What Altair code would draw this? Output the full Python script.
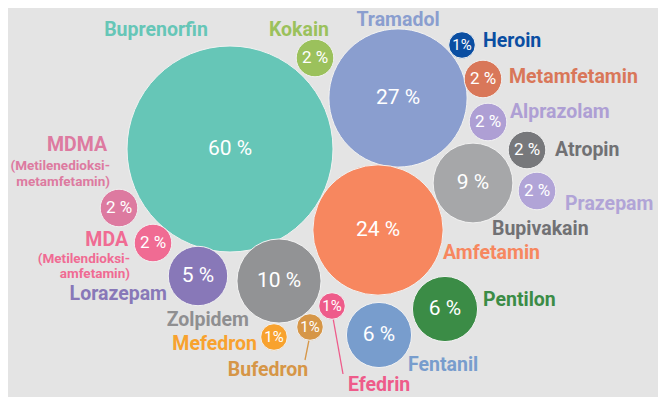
import altair as alt
import pandas as pd

# Bubble data
names = ["Buprenorfin", "Kokain", "Tramadol", "Heroin", "Metamfetamin", "Alprazolam",
         "Atropin", "Bupivakain", "Prazepam", "Amfetamin", "MDMA", "MDA", "Lorazepam",
         "Zolpidem", "Efedrin", "Mefedron", "Bufedron", "Fentanil", "Pentilon"]
values = [60, 2, 27, 1, 2, 2, 2, 9, 2, 24, 2, 2, 5, 10, 1, 1, 1, 6, 6]
pct_labels = ["60 %", "2 %", "27 %", "1%", "2 %", "2 %", "2 %", "9 %", "2 %", "24 %",
              "2 %", "2 %", "5 %", "10 %", "1%", "1%", "1%", "6 %", "6 %"]
bx = [230, 315, 398, 462, 483, 488, 527, 473, 537, 378, 119, 153, 198, 279, 332, 274, 310, 379, 445]
by = [149, 58, 98, 45, 79, 122, 150, 183, 191, 230, 208, 243, 276, 281, 306, 337, 327, 335, 309]
colors = ["#66c6b7", "#9bc15c", "#8a9ecf", "#0a4ea2", "#d97759", "#ae9fd4", "#77787b",
          "#a6a7a9", "#b1a4d7", "#f7875f", "#dd7aa0", "#f06b93", "#8878b8", "#929395",
          "#ee5b8a", "#f8a22e", "#d69647", "#789dcd", "#3b8c46"]

# Name labels
lab_text = ["Heroin", "Metamfetamin", "Alprazolam", "Atropin", "Prazepam", "Bupivakain",
            "Amfetamin", "Pentilon", "Fentanil", "Efedrin",
            "Mefedron", "Zolpidem", "Lorazepam", "MDA", "(Metilendioksi-", "amfetamin)",
            "MDMA", "(Metilenedioksi-", "metamfetamin)",
            "Buprenorfin", "Kokain", "Tramadol", "Bufedron"]
lab_x = [483, 509, 510, 555, 565, 492, 443, 483, 408, 348,
         257, 249, 167, 128, 130, 130, 107, 110, 110,
         156, 299, 398, 268]
lab_y = [41, 77, 112, 150, 204, 229, 253, 300, 365, 385,
         344, 320, 294, 240, 259, 274, 145, 166, 182,
         30, 30, 20, 370]
lab_align = ["left"] * 10 + ["right"] * 9 + ["center"] * 4
lab_size = [19.5] * 14 + [13.5, 13.5, 19.5, 13.5, 13.5] + [19.5] * 4
lab_color = ["#0a4ea2", "#d97759", "#ae9fd4", "#717174", "#b1a4d7", "#717174",
             "#f7875f", "#3b8c46", "#789dcd", "#ee5b8a",
             "#f8a22e", "#8f8f91", "#8878b8", "#f06b93", "#f06b93", "#f06b93",
             "#dd7aa0", "#dd7aa0", "#dd7aa0",
             "#66c6b7", "#9bc15c", "#8a9ecf", "#d69647"]

# Leader lines
ld_x = [333, 309]
ld_y = [318, 340]
ld_x2 = [343, 305]
ld_y2 = [374, 360]
ld_color = ["#ee5b8a", "#d69647"]

bubbles = pd.DataFrame({"name": names, "value": values, "pct": pct_labels,
                        "x": bx, "y": by, "col": colors})
bubbles["fs"] = [21 if v >= 5 else (17 if v >= 2 else 15) for v in values]
labels = pd.DataFrame({"t": lab_text, "x": lab_x, "y": lab_y, "al": lab_align,
                       "fs": lab_size, "col": lab_color})
leaders = pd.DataFrame({"x": ld_x, "y": ld_y, "x2": ld_x2, "y2": ld_y2, "col": ld_color})

all_cols = sorted(set(colors) | set(lab_color) | set(ld_color))
cscale = alt.Scale(domain=all_cols, range=all_cols)

W, H = 650, 389
xs = alt.Scale(domain=[8, 8 + W])
ys = alt.Scale(domain=[8 + H, 8])

def X():
    return alt.X("x:Q", scale=xs, axis=None)

def Y():
    return alt.Y("y:Q", scale=ys, axis=None)

def C():
    return alt.Color("col:N", scale=cscale, legend=None)

lines = alt.Chart(leaders).mark_rule(strokeWidth=1.3).encode(
    x=X(), y=Y(), x2="x2:Q", y2="y2:Q", color=C()
)

circles = alt.Chart(bubbles).mark_circle(opacity=1, stroke="#f2f2f2", strokeWidth=1).encode(
    x=X(), y=Y(),
    size=alt.Size("value:Q", scale=alt.Scale(domain=[0, 60], range=[0, 206 * 206]), legend=None),
    fill=alt.Fill("col:N", scale=cscale, legend=None),
)

layers = [lines, circles]

for fs in [15, 17, 21]:
    layers.append(
        alt.Chart(bubbles).transform_filter(alt.datum.fs == fs).mark_text(
            font="Roboto", color="white", baseline="middle", align="center", fontSize=fs
        ).encode(x=X(), y=Y(), text="pct:N")
    )

for a in ["left", "right", "center"]:
    for fs in [13.5, 19.5]:
        sub = labels[(labels["al"] == a) & (labels["fs"] == fs)]
        if len(sub) == 0:
            continue
        layers.append(
            alt.Chart(labels).transform_filter(
                (alt.datum.al == a) & (alt.datum.fs == fs)
            ).mark_text(font="Roboto", fontWeight="bold", align=a, baseline="middle", fontSize=fs
            ).encode(x=X(), y=Y(), text="t:N", color=C())
        )

chart = alt.layer(*layers).properties(
    width=W, height=H, padding=0, autosize="none", background="#e4e4e4"
).configure_view(stroke=None)

chart.save("out.html", embed_options={"renderer": "svg", "actions": False})
